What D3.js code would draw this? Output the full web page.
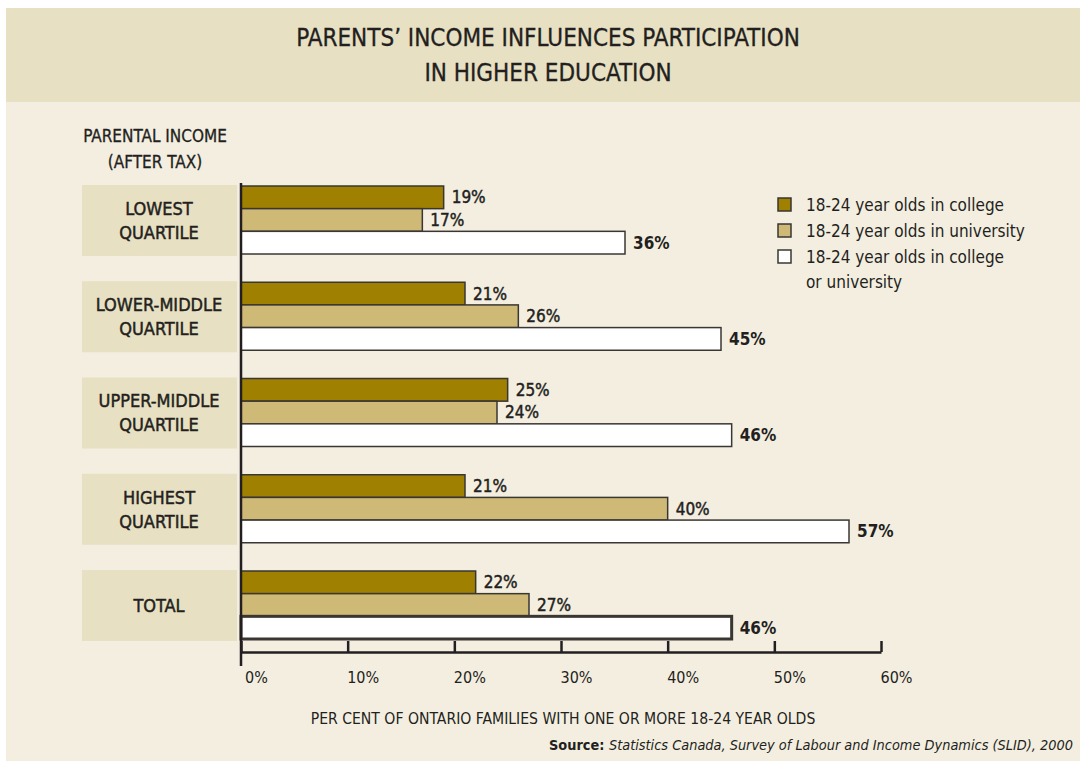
<!DOCTYPE html>
<html>
<head>
<meta charset="utf-8">
<script src="https://cdn.jsdelivr.net/npm/d3@7"></script>
<style>
  body { margin: 0; background: #fff; }
  svg { display: block; }
  text { fill: #231f20; font-family: "Liberation Sans Narrow", "DejaVu Sans Condensed", "Roboto Condensed", sans-serif; }
  .medium { stroke: #231f20; stroke-width: 0.45px; }
</style>
</head>
<body>
<svg></svg>
<script>
const width = 1080;
const height = 761;

// data
const categories = ["LOWEST QUARTILE", "LOWER-MIDDLE QUARTILE", "UPPER-MIDDLE QUARTILE", "HIGHEST QUARTILE", "TOTAL"];
const categoryLines = [["LOWEST", "QUARTILE"], ["LOWER-MIDDLE", "QUARTILE"], ["UPPER-MIDDLE", "QUARTILE"], ["HIGHEST", "QUARTILE"], ["TOTAL"]];
const college = [19, 21, 25, 21, 22];
const university = [17, 26, 24, 40, 27];
const collegeOrUniversity = [36, 45, 46, 57, 46];
const seriesKeys = ["college", "university", "either"];
const seriesNames = [["18-24 year olds in college"], ["18-24 year olds in university"], ["18-24 year olds in college", "or university"]];
const seriesColors = ["#a08000", "#cfb977", "#ffffff"];
const xTicks = [0, 10, 20, 30, 40, 50, 60];

const data = categories.map((c, i) => ({
    category: c,
    lines: categoryLines[i],
    values: [college[i], university[i], collegeOrUniversity[i]]
}));

const svg = d3.select('svg')
    .attr('width', width)
    .attr('height', height);

// panel + header band
svg.append('rect').attr('x', 6).attr('y', 8).attr('width', width - 6).attr('height', height - 8).attr('fill', '#f3eee0');
svg.append('rect').attr('x', 6).attr('y', 8).attr('width', width - 6).attr('height', 94).attr('fill', '#e8e0c2');

svg.append('text')
    .attr('class', 'medium')
    .attr('text-anchor', 'middle')
    .attr('font-size', 24)
    .style('stroke-width', '0.3px')
    .selectAll('tspan')
    .data(["PARENTS’ INCOME INFLUENCES PARTICIPATION", "IN HIGHER EDUCATION"])
    .join('tspan')
    .attr('x', 548)
    .attr('y', (d, i) => 46 + i * 35)
    .text(d => d);

svg.append('text')
    .attr('class', 'medium')
    .attr('text-anchor', 'middle')
    .attr('font-size', 17)
    .style('stroke-width', '0.3px')
    .selectAll('tspan')
    .data(["PARENTAL INCOME", "(AFTER TAX)"])
    .join('tspan')
    .attr('x', 155)
    .attr('y', (d, i) => 142 + i * 26)
    .text(d => d);

const x = d3.scaleLinear().domain([0, 60]).range([241, 881]);

const y = d3.scaleBand()
    .domain(categories)
    .range([186, 639])
    .paddingInner(0.2935)
    .paddingOuter(0);

const ySub = d3.scaleBand()
    .domain(seriesKeys)
    .range([0, y.bandwidth()]);

// category label boxes
const groups = svg.selectAll('.group').data(data)
    .join('g')
    .attr('class', 'group')
    .attr('transform', d => `translate(0,${y(d.category)})`);

groups.append('rect')
    .attr('x', 82)
    .attr('y', -1)
    .attr('width', 155)
    .attr('height', y.bandwidth() + 3)
    .attr('fill', '#e8e0c2');

groups.append('text')
    .attr('class', 'medium')
    .attr('text-anchor', 'middle')
    .attr('font-size', 18)
    .selectAll('tspan')
    .data(d => d.lines.map((l, i) => ({ l, i, n: d.lines.length })))
    .join('tspan')
    .attr('x', 159)
    .attr('y', d => y.bandwidth() / 2 + 7 + (d.i - (d.n - 1) / 2) * 24)
    .text(d => d.l);

// bars
groups.selectAll('rect.bar')
    .data((d, gi) => d.values.map((v, k) => ({ v, k, gi })))
    .join('rect')
    .attr('class', 'bar')
    .attr('x', x(0))
    .attr('y', d => ySub(seriesKeys[d.k]))
    .attr('width', d => x(d.v) - x(0))
    .attr('height', ySub.bandwidth())
    .attr('fill', d => seriesColors[d.k])
    .attr('stroke', '#3a3632')
    .attr('stroke-width', d => (d.gi === 4 && d.k === 2) ? 3 : 1.5);

groups.selectAll('text.val')
    .data(d => d.values.map((v, k) => ({ v, k })))
    .join('text')
    .attr('class', d => d.k === 2 ? 'val' : 'val medium')
    .attr('x', d => x(d.v) + 8)
    .attr('y', d => ySub(seriesKeys[d.k]) + ySub.bandwidth() / 2 + 6)
    .attr('font-size', 17)
    .attr('font-weight', d => d.k === 2 ? 'bold' : 'normal')
    .text(d => d.v + '%');

// vertical axis line
svg.append('line')
    .attr('x1', x(0)).attr('x2', x(0))
    .attr('y1', 183).attr('y2', 666)
    .attr('stroke', '#231f20')
    .attr('stroke-width', 2.5);

// x axis
const xAxis = d3.axisBottom(x)
    .tickValues(xTicks)
    .tickSize(-11)
    .tickSizeOuter(0)
    .tickFormat(d => d + '%');

const xAxisG = svg.append('g')
    .attr('transform', 'translate(0,652)')
    .call(xAxis);
xAxisG.attr('font-family', null).attr('font-size', null);
xAxisG.select('.domain').attr('stroke', '#231f20').attr('stroke-width', 2.5);
xAxisG.selectAll('.tick line').attr('stroke', '#231f20').attr('stroke-width', 2.5);
xAxisG.selectAll('.tick text')
    .attr('y', 31)
    .attr('dy', 0)
    .attr('dx', 15)
    .attr('font-size', 16)
    .attr('fill', '#3a3632');

svg.append('text')
    .attr('x', 563)
    .attr('y', 724)
    .attr('text-anchor', 'middle')
    .attr('font-size', 15.6)
    .attr('fill', '#3a3632')
    .text('PER CENT OF ONTARIO FAMILIES WITH ONE OR MORE 18-24 YEAR OLDS');

const src = svg.append('text')
    .attr('x', 1073)
    .attr('y', 750)
    .attr('text-anchor', 'end')
    .attr('font-size', 14.4);
src.append('tspan').attr('font-weight', 'bold').text('Source: ');
src.append('tspan').attr('font-style', 'italic').text('Statistics Canada, Survey of Labour and Income Dynamics (SLID), 2000');

// legend
const legend = svg.append('g').attr('transform', 'translate(778,198)');
const items = legend.selectAll('g').data(seriesNames)
    .join('g')
    .attr('transform', (d, i) => `translate(0,${i * 26})`);
items.append('rect')
    .attr('width', 13).attr('height', 13)
    .attr('fill', (d, i) => seriesColors[i])
    .attr('stroke', '#3a3632')
    .attr('stroke-width', 1.5);
items.append('text')
    .attr('font-size', 17)
    .attr('fill', '#3a3632')
    .selectAll('tspan')
    .data(d => d)
    .join('tspan')
    .attr('x', 28)
    .attr('y', (d, i) => 13 + i * 25)
    .text(d => d);
</script>
</body>
</html>
